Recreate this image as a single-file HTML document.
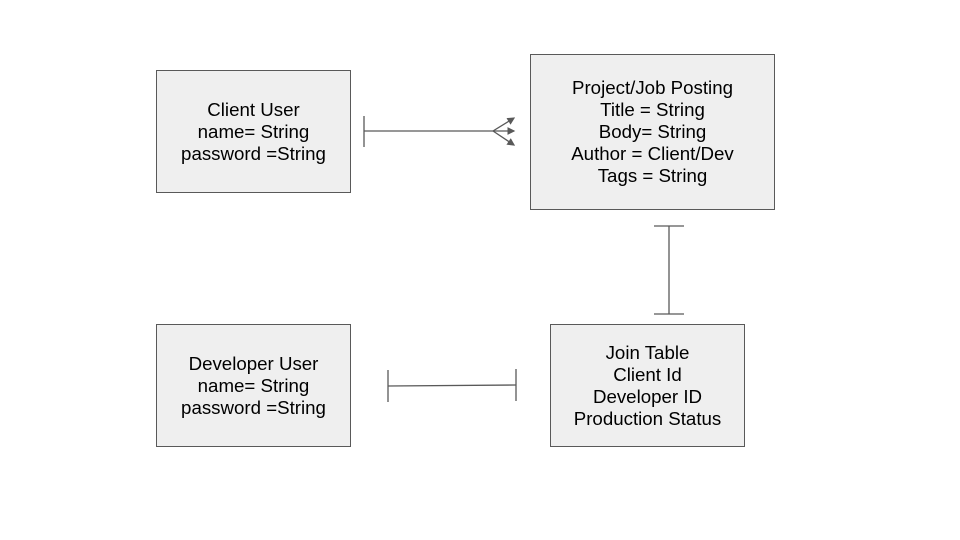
<!DOCTYPE html>
<html><head><style>
body{margin:0;width:960px;height:540px;background:#fff;overflow:hidden;font-family:"Liberation Sans",sans-serif}
.b{position:absolute;background:#efefef;border:1px solid #595959;box-sizing:border-box;display:flex;align-items:center;justify-content:center;text-align:center;font-size:18.7px;line-height:22px;color:#000}
</style></head><body>
<div class="b" style="left:156px;top:70px;width:195px;height:123px">Client User<br>name= String<br>password =String</div>
<div class="b" style="left:530px;top:54px;width:245px;height:156px">Project/Job Posting<br>Title = String<br>Body= String<br>Author = Client/Dev<br>Tags = String</div>
<div class="b" style="left:156px;top:324px;width:195px;height:123px">Developer User<br>name= String<br>password =String</div>
<div class="b" style="left:550px;top:324px;width:195px;height:123px">Join Table<br>Client Id<br>Developer ID<br>Production Status</div>
<svg width="960" height="540" style="position:absolute;left:0;top:0">
<defs><marker id="a" markerWidth="6" markerHeight="6" refX="5" refY="3" orient="auto"><path d="M0,0L6,3L0,6z" fill="#595959"/></marker></defs>
<g stroke="#595959" stroke-width="1.3" fill="none">
<line x1="364" y1="131" x2="514" y2="131" marker-end="url(#a)"/>
<line x1="364" y1="116" x2="364" y2="147"/>
<line x1="493" y1="131" x2="514" y2="118" marker-end="url(#a)"/>
<line x1="493" y1="131" x2="514" y2="145" marker-end="url(#a)"/>
<line x1="669" y1="226" x2="669" y2="314"/>
<line x1="654" y1="226" x2="684" y2="226"/>
<line x1="654" y1="314" x2="684" y2="314"/>
<line x1="388" y1="386" x2="516" y2="385"/>
<line x1="388" y1="370" x2="388" y2="402"/>
<line x1="516" y1="369" x2="516" y2="401"/>
</g></svg>
</body></html>
